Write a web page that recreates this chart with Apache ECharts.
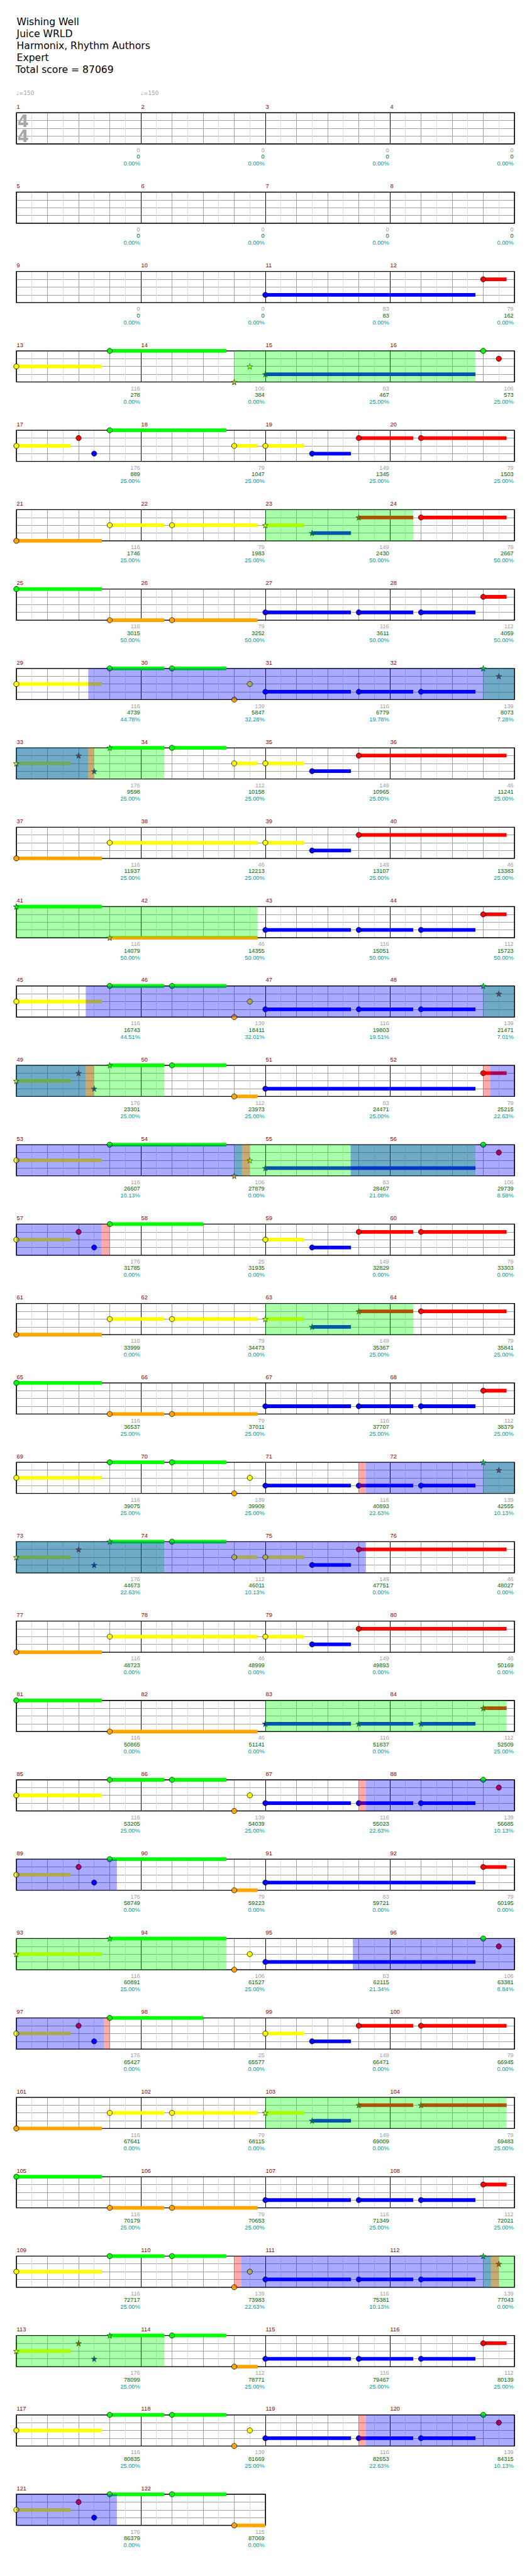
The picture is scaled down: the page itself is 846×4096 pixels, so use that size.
<!DOCTYPE html>
<html><head><meta charset="utf-8">
<script src="https://cdn.jsdelivr.net/npm/echarts@6/dist/echarts.min.js"></script>
<style>html,body{margin:0;padding:0;background:#fff}#c{width:846px;height:4096px}</style>
</head><body><div id="c"></div>
<script>
// ---------------- DATA ----------------
const titleLines = ['Wishing Well', 'Juice WRLD', 'Harmonix, Rhythm Authors', 'Expert'];
const totalScoreText = 'Total score = 87069';
const tempoMarks = [[1, 150], [2, 150]];           // [measure, bpm]
const timeSignature = [4, 4];

// notes per fret: [measure, beat in measure, sustain length (beats), star]
const greenNotes = [
 [13,3,3.75,0],[16,3,0,0],[17,3,3.75,0],[25,0,2.75,0],
 [29,3,1.75,0],[30,1,1.75,0],[32,3,0,1],[33,3,1.75,1],[34,1,1.75,0],
 [41,0,2.75,1],[45,3,1.75,0],[46,1,1.75,0],[48,3,0,1],[49,3,1.75,1],[50,1,1.75,0],
 [53,3,3.75,0],[56,3,0,0],[57,3,3,0],[65,0,2.75,0],
 [69,3,1.75,0],[70,1,1.75,0],[72,3,0,1],[73,3,1.75,1],[74,1,1.75,0],
 [81,0,2.75,0],[85,3,1.75,0],[86,1,1.75,0],[88,3,0,0],[89,3,3.75,0],
 [93,3,3.75,1],[96,3,0,0],[97,3,3,0],[105,0,2.75,0],
 [109,3,1.75,0],[110,1,1.75,0],[112,3,0,1],[113,3,1.75,1],[114,1,1.75,0],
 [117,3,1.75,0],[118,1,1.75,0],[120,3,0,0],[121,3,1.75,0],[122,1,1.75,0]
];
const redNotes = [
 [12,3,0.75,0],[16,3.5,0,0],[17,2,0,0],[19,3,1.75,0],[20,1,2.75,0],
 [23,3,1.75,1],[24,1,2.75,0],[28,3,0.75,0],[32,3.5,0,1],[33,2,0,1],[35,3,4.75,0],
 [39,3,4.75,0],[44,3,0.75,0],[48,3.5,0,1],[49,2,0,1],[52,3,0.75,0],[56,3.5,0,0],
 [57,2,0,0],[59,3,1.75,0],[60,1,2.75,0],[63,3,1.75,1],[64,1,2.75,0],[68,3,0.75,0],
 [72,3.5,0,1],[73,2,0,1],[75,3,4.75,0],[79,3,4.75,0],[84,3,0.75,1],[88,3.5,0,0],
 [89,2,0,0],[92,3,0.75,0],[96,3.5,0,0],[97,2,0,0],[99,3,1.75,0],[100,1,2.75,0],
 [103,3,1.75,1],[104,1,2.75,1],[108,3,0.75,0],[112,3.5,0,1],[113,2,0,1],[116,3,0.75,0],
 [120,3.5,0,0],[121,2,0,0]
];
const yellowNotes = [
 [13,0,2.75,0],[14,3.5,0,1],[17,0,1.75,0],[18,3,0.75,0],[19,0,1.25,0],
 [21,3,1.75,0],[22,1,2.75,0],[23,0,1.25,1],[29,0,2.75,0],[30,3.5,0,0],
 [33,0,1.75,1],[34,3,0.75,0],[35,0,1.25,0],[37,3,4.75,0],[39,0,1.25,0],
 [45,0,2.75,0],[46,3.5,0,0],[49,0,1.75,1],[53,0,2.75,0],[54,3.5,0,1],
 [57,0,1.75,0],[59,0,1.25,0],[61,3,1.75,0],[62,1,2.75,0],[63,0,1.25,1],
 [69,0,2.75,0],[70,3.5,0,0],[73,0,1.75,1],[74,3,0.75,0],[75,0,1.25,0],
 [77,3,4.75,0],[79,0,1.25,0],[85,0,2.75,0],[86,3.5,0,0],[89,0,1.75,0],
 [93,0,2.75,1],[94,3.5,0,0],[97,0,1.75,0],[99,0,1.25,0],
 [101,3,1.75,0],[102,1,2.75,0],[103,0,1.25,1],[109,0,2.75,0],[110,3.5,0,0],
 [113,0,1.75,1],[117,0,2.75,0],[118,3.5,0,0],[121,0,1.75,0]
];
const blueNotes = [
 [11,0,6.75,0],[15,0,6.75,1],[17,2.5,0,0],[19,1.5,1.25,0],[23,1.5,1.25,1],
 [27,0,2.75,0],[27,3,1.75,0],[28,1,1.75,0],[31,0,2.75,0],[31,3,1.75,0],[32,1,1.75,0],
 [33,2.5,0,1],[35,1.5,1.25,0],[39,1.5,1.25,0],
 [43,0,2.75,0],[43,3,1.75,0],[44,1,1.75,0],[47,0,2.75,0],[47,3,1.75,0],[48,1,1.75,0],
 [49,2.5,0,1],[51,0,6.75,0],[55,0,6.75,1],[57,2.5,0,0],[59,1.5,1.25,0],[63,1.5,1.25,1],
 [67,0,2.75,0],[67,3,1.75,0],[68,1,1.75,0],[71,0,2.75,0],[71,3,1.75,0],[72,1,1.75,0],
 [73,2.5,0,1],[75,1.5,1.25,0],[79,1.5,1.25,0],
 [83,0,2.75,1],[83,3,1.75,1],[84,1,1.75,1],[87,0,2.75,0],[87,3,1.75,0],[88,1,1.75,0],
 [89,2.5,0,0],[91,0,6.75,0],[95,0,6.75,0],[97,2.5,0,0],[99,1.5,1.25,0],[103,1.5,1.25,1],
 [107,0,2.75,0],[107,3,1.75,0],[108,1,1.75,0],[111,0,2.75,0],[111,3,1.75,0],[112,1,1.75,0],
 [113,2.5,0,1],[115,0,2.75,0],[115,3,1.75,0],[116,1,1.75,0],
 [119,0,2.75,0],[119,3,1.75,0],[120,1,1.75,0],[121,2.5,0,0]
];
const orangeNotes = [
 [14,3,0,1],[21,0,2.75,0],[25,3,1.75,0],[26,1,2.75,0],[30,3,0,0],[37,0,2.75,0],
 [41,3,4.75,1],[46,3,0,0],[50,3,0.75,0],[54,3,0,1],[61,0,2.75,0],[65,3,1.75,0],
 [66,1,2.75,0],[70,3,0,0],[77,0,2.75,0],[81,3,4.75,0],[86,3,0,0],[90,3,0.75,0],
 [94,3,0,0],[101,0,2.75,0],[105,3,1.75,0],[106,1,2.75,0],[110,3,0,0],[114,3,0.75,0],
 [118,3,0,0],[122,3,1,0]
];

// shaded sections, in song beats from the start: [from, to]
const starPhrases = [[55,62.75],[88,92.75],[127,132.75],[160,167.75],[191,196.75],[215,222.75],
 [248,252.75],[287,292.75],[328,335.75],[368,374.75],[408,415.75],[447,452.75]];
const activations = [[114.31,130.31],[178.23,194.23],[207.23,215.25],[218.74,226.74],[283.23,299.23],
 [347.23,355.23],[378.81,386.81],[439.23,447.25],[475.23,483.23]];
const activationEdges = [[130.31,130.5],[194.23,194.5],[207,207.23],[215.25,215.5],[226.74,227],
 [283,283.23],[347,347.23],[386.81,387],[439,439.23],[447.25,447.5],[475,475.23]];

// per-measure labels
const measureScore = [
 0,0,0,0, 0,0,0,0, 0,0,83,79, 116,106,83,106, 176,79,149,79, 116,79,149,79,
 116,79,116,112, 116,139,116,139, 176,112,149,46, 116,46,149,46, 116,46,116,112,
 116,139,116,139, 176,112,83,79, 116,106,83,106, 176,25,149,79, 116,79,149,79,
 116,79,116,112, 116,139,116,139, 176,112,149,46, 116,46,149,46, 116,46,116,112,
 116,139,116,139, 176,79,83,79, 116,106,83,106, 176,25,149,79, 116,79,149,79,
 116,79,116,112, 116,139,116,139, 176,112,116,112, 116,139,116,139, 176,115
];
const runningTotal = [
 0,0,0,0, 0,0,0,0, 0,0,83,162, 278,384,467,573, 889,1047,1345,1503,
 1746,1983,2430,2667, 3015,3252,3611,4059, 4739,5847,6779,8073, 9598,10158,10965,11241,
 11937,12213,13107,13383, 14079,14355,15051,15723, 16743,18411,19803,21471,
 23301,23973,24471,25215, 26607,27879,28467,29739, 31785,31935,32829,33303,
 33999,34473,35367,35841, 36537,37011,37707,38379, 39075,39909,40893,42555,
 44673,46011,47751,48027, 48723,48999,49893,50169, 50865,51141,51837,52509,
 53205,54039,55023,56685, 58749,59223,59721,60195, 60891,61527,62115,63381,
 65427,65577,66471,66945, 67641,68115,69009,69483, 70179,70653,71349,72021,
 72717,73983,75381,77043, 78099,78771,79467,80139, 80835,81669,82653,84315, 86379,87069
];
const percentLabel = [
 0,0,0,0, 0,0,0,0, 0,0,0,0, 0,0,25,25, 25,25,25,25, 25,25,50,50, 50,50,50,50,
 44.78,32.28,19.78,7.28, 25,25,25,25, 25,25,25,25, 50,50,50,50, 44.51,32.01,19.51,7.01,
 25,25,25,22.63, 10.13,0,21.08,8.58, 0,0,0,0, 0,0,25,25, 25,25,25,25, 25,25,22.63,10.13,
 22.63,10.13,0,0, 0,0,0,0, 0,0,0,25, 25,25,22.63,10.13, 0,0,0,0, 25,25,21.34,8.84,
 0,0,0,0, 0,0,0,25, 25,25,25,25, 25,22.63,10.13,0, 25,25,25,25, 25,25,22.63,10.13, 0,0
];

// ---------------- LAYOUT ----------------
const S = 0.825;
const LEFT = 31.5 * S, MEASURE_W = 240 * S, TOP0 = 217.3 * S, ROW_STEP = 153 * S, STAFF_H = 60 * S;
const PER_ROW = 4, BEATS = 4;
const FRET_COLORS = ['#00ff00', '#ff0000', '#ffff00', '#0000ff', '#ffa500'];
const STAR = 'path://M50,0 L61,35 L98,35 L68,57 L79,91 L50,70 L21,91 L32,57 L2,35 L39,35 Z';
const LABEL_FONT = (9.3) + 'px "Liberation Sans", Arial, sans-serif';

const nMeasures = measureScore.length;
const nRows = Math.ceil(nMeasures / PER_ROW);

const notes = [];
[greenNotes, redNotes, yellowNotes, blueNotes, orangeNotes].forEach((arr, lane) => {
  arr.forEach(([m, b, len, star]) => notes.push({ g: (m - 1) * BEATS + b, len, star, lane }));
});

const grid = [], xAxis = [], yAxis = [], series = [];
const ax = { axisLine: { show: false }, axisTick: { show: false }, axisLabel: { show: false } };

function txt(x, y, text, fill, font, align, va) {
  return { type: 'text', x, y, style: { text, fill, font, align, verticalAlign: va || 'middle', textAlign: align, textVerticalAlign: va || 'middle' } };
}

for (let r = 0; r < nRows; r++) {
  const m0 = r * PER_ROW;
  const nm = Math.min(PER_ROW, nMeasures - m0);
  const rs = m0 * BEATS, re = (m0 + nm) * BEATS;
  grid.push({ left: LEFT, top: TOP0 + r * ROW_STEP, width: nm * MEASURE_W, height: STAFF_H, show: false });
  xAxis.push(Object.assign({ gridIndex: r, type: 'value', min: rs, max: re, interval: 1,
    splitLine: { show: true, lineStyle: { color: '#a0a0a0', width: 1 } },
    minorTick: { show: false, splitNumber: 2 },
    minorSplitLine: { show: true, lineStyle: { color: '#dcdcdc', width: 1 } } }, ax));
  xAxis.push(Object.assign({ gridIndex: r, type: 'value', min: rs, max: re, interval: BEATS,
    splitLine: { show: true, lineStyle: { color: '#000', width: 1 } } }, ax));
  yAxis.push(Object.assign({ gridIndex: r, type: 'value', min: 0, max: 4, interval: 1, inverse: true,
    splitLine: { show: true, lineStyle: { color: '#a0a0a0', width: 1 } } }, ax));

  const base = { xAxisIndex: 2 * r, yAxisIndex: r, silent: true };

  // staff border
  series.push(Object.assign({ type: 'custom', z: 3, data: [[rs, re]], encode: { x: [0, 1] },
    renderItem: (p, api) => {
      const a = api.coord([api.value(0), 0]), b = api.coord([api.value(1), 4]);
      return { type: 'rect', shape: { x: a[0], y: a[1], width: b[0] - a[0], height: b[1] - a[1] },
        style: { fill: 'none', stroke: '#000', lineWidth: 1.3 } };
    } }, base));

  const rowNotes = notes.filter(n => n.g >= rs && n.g < re);
  // sustains
  series.push(Object.assign({ type: 'custom', z: 4, encode: { x: [0, 1], y: 2 },
    data: rowNotes.filter(n => n.len > 0).map(n => [n.g, n.g + n.len, n.lane]),
    renderItem: (p, api) => {
      const lane = api.value(2);
      const a = api.coord([api.value(0), lane]), b = api.coord([api.value(1), lane]);
      const h = 7 * S;
      return { type: 'rect', shape: { x: a[0], y: a[1] - h / 2, width: b[0] - a[0], height: h },
        style: { fill: FRET_COLORS[lane] } };
    } }, base));

  // note heads
  series.push(Object.assign({ type: 'scatter', z: 5,
    data: rowNotes.map(n => ({ value: [n.g, n.lane], symbol: n.star ? STAR : 'circle',
      symbolSize: n.star ? 11 * S : 10 * S,
      itemStyle: { color: FRET_COLORS[n.lane], borderColor: n.star ? '#1a3a1a' : '#000', borderWidth: 0.8, opacity: 1 } })) }, base));

  // shaded sections
  const shades = [];
  [[starPhrases, 'rgba(0,255,0,0.333)'], [activations, 'rgba(0,0,255,0.333)'], [activationEdges, 'rgba(255,0,0,0.333)']]
    .forEach(([list, col], k) => list.forEach(([s, e]) => {
      const a = Math.max(s, rs), b = Math.min(e, re);
      if (b > a) shades.push([a, b, k]);
    }));
  const shadeCols = ['rgba(0,255,0,0.333)', 'rgba(0,0,255,0.333)', 'rgba(255,0,0,0.333)'];
  series.push(Object.assign({ type: 'custom', z: 8, data: shades, encode: { x: [0, 1] },
    renderItem: (p, api) => {
      const a = api.coord([api.value(0), 0]), b = api.coord([api.value(1), 4]);
      return { type: 'rect', shape: { x: a[0], y: a[1], width: b[0] - a[0], height: b[1] - a[1] },
        style: { fill: shadeCols[api.value(2)] } };
    } }, base));

  // measure labels
  const lab = [];
  for (let i = 0; i < nm; i++) { const m = m0 + i; lab.push([m * BEATS, (m + 1) * BEATS, m + 1]); }
  series.push(Object.assign({ type: 'custom', z: 6, data: lab, encode: { x: [0, 1] },
    renderItem: (p, api) => {
      const m = api.value(2);
      const a = api.coord([api.value(0), 0]), b = api.coord([api.value(1), 4]);
      return { type: 'group', children: [
        txt(a[0] + 0.5, a[1] - 9.3, String(m), '#8b0000', LABEL_FONT, 'left'),
        txt(b[0] - 1.2, b[1] + 10.2, String(measureScore[m - 1]), '#a0a0a0', LABEL_FONT, 'right'),
        txt(b[0] - 1.2, b[1] + 20.5, String(runningTotal[m - 1]), '#006400', LABEL_FONT, 'right'),
        txt(b[0] - 1.2, b[1] + 31.5, percentLabel[m - 1].toFixed(2) + '%', '#009999', LABEL_FONT, 'right')
      ] };
    } }, base));

  if (r === 0) {
    // tempo marks
    series.push(Object.assign({ type: 'custom', z: 6, encode: { x: 0 },
      data: tempoMarks.map(([m, bpm]) => [(m - 1) * BEATS, bpm]),
      renderItem: (p, api) => {
        const a = api.coord([api.value(0), 0]);
        return txt(a[0], a[1] - 31.2, '\u2669=' + api.value(1), '#a0a0a0', '8.8px "DejaVu Sans", sans-serif', 'left');
      } }, base));
    // time signature
    series.push(Object.assign({ type: 'custom', z: 6, encode: { x: 0 },
      data: [[0, timeSignature[0], timeSignature[1]]],
      renderItem: (p, api) => {
        const a = api.coord([api.value(0), 0]);
        const f = 'bold 26px "DejaVu Sans", sans-serif';
        return { type: 'group', children: [
          txt(a[0] + 10.7, a[1] + 13.3, String(api.value(1)), '#a8a8a8', f, 'center'),
          txt(a[0] + 10.7, a[1] + 37.6, String(api.value(2)), '#a8a8a8', f, 'center')
        ] };
      } }, base));
  }
}

const chart = echarts.init(document.getElementById('c'), null, { renderer: 'svg' });
chart.setOption({
  animation: false,
  backgroundColor: '#fff',
  title: [
    { text: titleLines.join('\n'), left: 26.6, top: 25.2, padding: 0,
      textStyle: { fontFamily: 'DejaVu Sans', fontSize: 15.6, fontWeight: 'normal', color: '#000', lineHeight: 19.1 } },
    { text: totalScoreText, left: 24.8, top: 101.6, padding: 0,
      textStyle: { fontFamily: 'DejaVu Sans', fontSize: 15.6, fontWeight: 'normal', color: '#000', lineHeight: 19.1 } }
  ],
  grid, xAxis, yAxis, series
});
</script></body></html>
